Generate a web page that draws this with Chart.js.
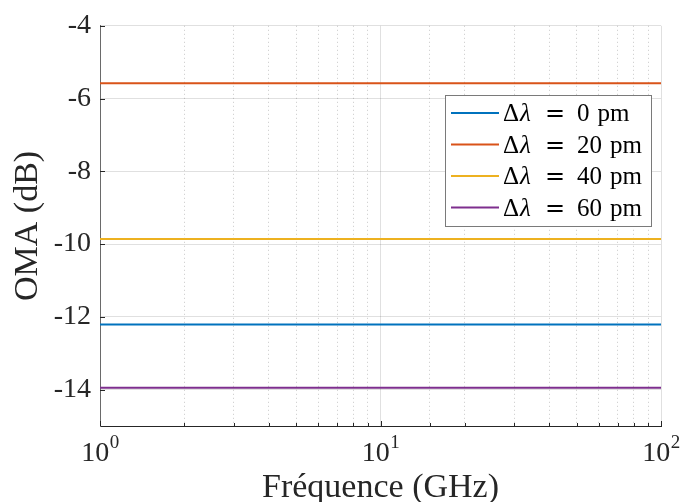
<!DOCTYPE html>
<html>
<head>
<meta charset="utf-8">
<script src="https://cdn.jsdelivr.net/npm/chart.js@4"></script>
<style>
html,body{margin:0;padding:0;background:#fff;}
#wrap{width:681px;height:502px;}
</style>
</head>
<body>
<div id="wrap"><canvas id="c" width="681" height="502"></canvas></div>
<script>
// ---- data ----
const frequencies = [1, 100];                  // GHz
const seriesLabels = ['0', '20', '40', '60'];  // Δλ in pm
const oma0pm  = [-12.21, -12.21];
const oma20pm = [-5.58, -5.58];
const oma40pm = [-9.86, -9.86];
const oma60pm = [-13.95, -13.95];
const yTicks = [-14, -12, -10, -8, -6, -4];
const xTickBase = '10';
const xTickExponents = {1: '0', 10: '1', 100: '2'};

const colors = ['#0072BD', '#D95319', '#EDB120', '#7E2F8E'];
const seriesValues = [oma0pm, oma20pm, oma40pm, oma60pm];
const FONT = '"Liberation Serif", "Times New Roman", serif';

function isMajorVal(v){ const l = Math.log10(v); return Math.abs(l - Math.round(l)) < 1e-9; }

const legendPlugin = {
  id: 'boxLegend',
  afterDatasetsDraw(chart) {
    const ctx = chart.ctx;
    const x0 = 445.5, y0 = 95.5, w = 206, h = 131;
    ctx.save();
    ctx.fillStyle = '#fff';
    ctx.fillRect(x0, y0, w, h);
    ctx.strokeStyle = '#7a7a7a';
    ctx.lineWidth = 1;
    ctx.strokeRect(x0, y0, w, h);
    chart.data.datasets.forEach((ds, i) => {
      const cy = 113 + i * 31.5;
      ctx.strokeStyle = ds.borderColor;
      ctx.lineWidth = 2;
      ctx.beginPath(); ctx.moveTo(451, cy); ctx.lineTo(499, cy); ctx.stroke();
      ctx.fillStyle = '#000';
      ctx.textBaseline = 'alphabetic';
      const by = cy + 8;
      let x = 503;
      ctx.font = '25px ' + FONT;
      ctx.fillText('Δ', x, by); x += ctx.measureText('Δ').width + 1;
      ctx.font = 'italic 25px ' + FONT;
      ctx.fillText('λ', x, by);
      ctx.font = '24px "DejaVu Serif", serif';
      ctx.fillText('=', 545, by);
      ctx.font = '25px ' + FONT;
      ctx.fillText(seriesLabels[i], 577, by);
      const nx = 577 + ctx.measureText(seriesLabels[i]).width + 8;
      ctx.fillText('pm', nx, by);
    });
    ctx.restore();
  }
};

const axisDecor = {
  id: 'axisDecor',
  afterDraw(chart) {
    const ctx = chart.ctx, a = chart.chartArea;
    const xs = chart.scales.x, ys = chart.scales.y;
    ctx.save();
    // inward tick marks
    ctx.strokeStyle = '#262626';
    ctx.lineWidth = 1;
    ctx.beginPath();
    ys.ticks.forEach(t => {
      const y = Math.round(ys.getPixelForValue(t.value)) + 0.5;
      ctx.moveTo(a.left, y); ctx.lineTo(a.left + 5, y);
    });
    xs.ticks.forEach(t => {
      const x = Math.round(xs.getPixelForValue(t.value)) + 0.5;
      const len = isMajorVal(t.value) ? 5 : 3;
      ctx.moveTo(x, a.bottom); ctx.lineTo(x, a.bottom - len);
    });
    ctx.stroke();
    // x tick labels with superscript exponents
    ctx.fillStyle = '#262626';
    ctx.textBaseline = 'alphabetic';
    ctx.textAlign = 'left';
    xs.ticks.forEach(t => {
      if (!isMajorVal(t.value)) return;
      const exp = xTickExponents[Math.round(t.value)];
      if (exp === undefined) return;
      const x = xs.getPixelForValue(t.value);
      ctx.font = '28px ' + FONT;
      const wb = ctx.measureText(xTickBase).width;
      ctx.font = '19px ' + FONT;
      const we = ctx.measureText(exp).width;
      const start = x - (wb + we) / 2;
      ctx.font = '28px ' + FONT;
      ctx.fillText(xTickBase, start, a.bottom + 35);
      ctx.font = '19px ' + FONT;
      ctx.fillText(exp, start + wb + 0.5, a.bottom + 22);
    });
    ctx.restore();
  }
};

new Chart(document.getElementById('c'), {
  type: 'line',
  data: {
    datasets: seriesValues.map((vals, i) => ({
      label: 'Δλ = ' + seriesLabels[i] + ' pm',
      data: frequencies.map((f, j) => ({x: f, y: vals[j]})),
      borderColor: colors[i],
      backgroundColor: colors[i],
      borderWidth: 2,
      pointRadius: 0,
      tension: 0
    }))
  },
  options: {
    responsive: false,
    animation: false,
    devicePixelRatio: 1,
    layout: {padding: {top: 25, right: 20, left: 0, bottom: 0}},
    plugins: {legend: {display: false}, tooltip: {enabled: false}},
    scales: {
      x: {
        type: 'logarithmic',
        min: 1, max: 100,
        afterFit(s) { s.height = 76; s.paddingLeft = 0; s.paddingRight = 0; },
        grid: {
          drawTicks: false,
          color: c => (c.tick && !isMajorVal(c.tick.value)) ? 'rgba(0,0,0,0.22)' : 'rgba(0,0,0,0.12)',
          lineWidth: 1
        },
        border: {
          color: '#262626', width: 1,
          dash: c => (c.tick && !isMajorVal(c.tick.value)) ? [1, 3] : []
        },
        ticks: {
          display: false, autoSkip: false, maxRotation: 0
        },
        title: {
          display: true, text: 'Fréquence (GHz)', color: '#262626',
          font: {family: FONT, size: 34, lineHeight: 0.8}, padding: {top: 0, bottom: 0}
        }
      },
      y: {
        min: -15, max: -4,
        afterFit(s) { s.width = 100; },
        afterBuildTicks(s) { s.ticks = yTicks.map(v => ({value: v})); },
        grid: {drawTicks: false, color: 'rgba(0,0,0,0.12)', lineWidth: 1},
        border: {color: '#6a6a6a', width: 1},
        ticks: {
          padding: 9, color: '#262626',
          font: {family: FONT, size: 28},
          callback: v => String(v)
        },
        title: {
          display: true, text: 'OMA (dB)', color: '#262626',
          font: {family: FONT, size: 34, lineHeight: 1.0}, padding: {top: 11, bottom: 0}
        }
      }
    }
  },
  plugins: [legendPlugin, axisDecor]
});
</script>
</body>
</html>
